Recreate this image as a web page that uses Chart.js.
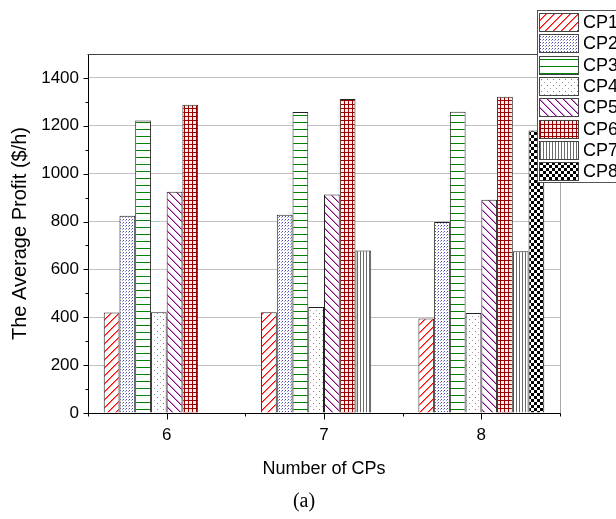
<!DOCTYPE html>
<html>
<head>
<meta charset="utf-8">
<title>Average Profit by Number of CPs</title>
<script src="https://cdn.jsdelivr.net/npm/chart.js@4.4.1/dist/chart.umd.min.js"></script>
<style>
  html, body { margin: 0; padding: 0; background: #fff; }
  canvas { display: block; }
</style>
</head>
<body>
<canvas id="profitChart" width="616" height="519"></canvas>
<script>
// DATA
const xLabels = ["6", "7", "8"];
const cpNames = ["CP1", "CP2", "CP3", "CP4", "CP5", "CP6", "CP7", "CP8"];
const cp1 = [420, 421, 395];
const cp2 = [824, 828, 798];
const cp3 = [1222, 1258, 1259];
const cp4 = [421, 443, 418];
const cp5 = [924, 913, 891];
const cp6 = [1288, 1312, 1321];
const cp7 = [null, 679, 676];
const cp8 = [null, null, 1180];
const yTickValues = [0, 200, 400, 600, 800, 1000, 1200, 1400];

const canvas = document.getElementById("profitChart");
const ctx = canvas.getContext("2d");

// builds a repeating fill from a small tile
function tilePattern(w, h, paint) {
    const c = document.createElement("canvas");
    c.width = w;
    c.height = h;
    const g = c.getContext("2d");
    g.fillStyle = "#fff";
    g.fillRect(0, 0, w, h);
    paint(g);
    return ctx.createPattern(c, "repeat");
}

function px(g, x, y, col) {
    g.fillStyle = col;
    g.fillRect(x, y, 1, 1);
}

const fills = [
    // red forward hatch
    tilePattern(8, 8, g => {
        for (let i = 0; i < 8; i++) {
            px(g, i, 7 - i, "#ff0000");
            px(g, (i + 1) % 8, 7 - i, "#ff6a6a");
        }
    }),
    // fine blue dots
    tilePattern(3, 3, g => {
        px(g, 0, 0, "#4a4ab0");
        px(g, 2, 1, "#9a9ad8");
    }),
    // green horizontal lines
    tilePattern(1, 7, g => {
        px(g, 0, 3, "#008000");
    }),
    // sparse grey dots
    tilePattern(6, 6, g => {
        px(g, 1, 1, "#808080");
        px(g, 4, 4, "#a0a0a0");
    }),
    // purple back hatch
    tilePattern(8, 8, g => {
        for (let i = 0; i < 8; i++) {
            px(g, i, i, "#800080");
            px(g, (i + 1) % 8, i, "#c890c8");
        }
    }),
    // dark red grid
    tilePattern(4, 4, g => {
        g.fillStyle = "#fbeeee";
        g.fillRect(1, 1, 3, 3);
        g.fillStyle = "#990000";
        g.fillRect(0, 0, 4, 1);
        g.fillRect(0, 0, 1, 4);
    }),
    // grey vertical lines
    tilePattern(3, 1, g => {
        px(g, 0, 0, "#6a6a6a");
    }),
    // checkerboard
    tilePattern(6, 6, g => {
        g.fillStyle = "#000";
        g.fillRect(0, 0, 3, 3);
        g.fillRect(3, 3, 3, 3);
    })
];

const seriesValues = [cp1, cp2, cp3, cp4, cp5, cp6, cp7, cp8];

const datasets = cpNames.map((name, i) => ({
    label: name,
    data: seriesValues[i],
    backgroundColor: fills[i],
    borderColor: "#222",
    borderWidth: 1
}));

// axis ticks, frame, legend box and sub caption
const chartExtras = {
    id: "chartExtras",
    afterDraw(chart) {
        const c = chart.ctx;
        const area = chart.chartArea;
        const xs = chart.scales.x;
        const ys = chart.scales.y;
        const L = Math.round(area.left) + 0.5;
        const R = Math.round(area.right) + 0.5;
        const T = Math.round(area.top) + 0.5;
        const B = Math.round(area.bottom) + 0.5;

        c.save();
        c.lineWidth = 1;

        // right edge
        c.strokeStyle = "#a8a8a8";
        c.beginPath();
        c.moveTo(R, T);
        c.lineTo(R, B);
        c.stroke();

        // top edge
        c.strokeStyle = "#444";
        c.beginPath();
        c.moveTo(L - 1, T);
        c.lineTo(R, T);
        c.stroke();

        // y tick marks, major every 200, minor every 100
        c.strokeStyle = "#000";
        c.beginPath();
        for (let v = 0; v <= 1400; v += 100) {
            const y = Math.round(ys.getPixelForValue(v)) + 0.5;
            const len = v % 200 === 0 ? 5 : 3;
            c.moveTo(L - len, y);
            c.lineTo(L, y);
        }
        // x tick marks at categories and between them
        for (let i = 0; i < xLabels.length; i++) {
            const x = Math.round(xs.getPixelForValue(i)) + 0.5;
            c.moveTo(x, B);
            c.lineTo(x, B + 6);
        }
        for (let k = 0; k <= xLabels.length; k++) {
            const x = Math.round(xs.getPixelForValue(k - 0.5)) + 0.5;
            c.moveTo(x, B);
            c.lineTo(x, B + 3);
        }
        c.stroke();

        // legend
        const boxL = 537.5, boxT = 10.5, boxB = 182.5;
        c.fillStyle = "#fff";
        c.fillRect(boxL, boxT, chart.width - boxL + 2, boxB - boxT);
        c.strokeStyle = "#555";
        c.strokeRect(boxL, boxT, chart.width - boxL + 2, boxB - boxT);

        c.font = "18px Arial, 'Liberation Sans', sans-serif";
        c.textBaseline = "middle";
        c.textAlign = "left";
        chart.data.datasets.forEach((ds, i) => {
            const top = 13 + i * 21.3;
            const sy = Math.round(top) + 0.5;
            c.fillStyle = ds.backgroundColor;
            c.fillRect(539.5, sy, 39, 18);
            c.strokeStyle = "#444";
            c.strokeRect(539.5, sy, 39, 18);
            c.fillStyle = "#000";
            c.fillText(ds.label, 583, sy + 10);
        });

        // sub caption
        c.font = "20px 'Liberation Serif', 'Times New Roman', serif";
        c.textAlign = "center";
        c.fillStyle = "#000";
        c.fillText("(a)", 304, 502);

        c.restore();
    }
};

Chart.defaults.font.family = "Arial, 'Liberation Sans', sans-serif";
Chart.defaults.color = "#000";

const profitChart = new Chart(ctx, {
    type: "bar",
    data: {
        labels: xLabels,
        datasets: datasets
    },
    options: {
        responsive: false,
        animation: false,
        events: [],
        layout: {
            padding: { top: 54, right: 56, left: 0, bottom: 0 }
        },
        datasets: {
            bar: {
                categoryPercentage: 0.8,
                barPercentage: 1.0
            }
        },
        plugins: {
            legend: { display: false },
            tooltip: { enabled: false }
        },
        scales: {
            x: {
                type: "category",
                grid: { display: false, drawTicks: false },
                border: { display: true, color: "#000", width: 1 },
                ticks: {
                    font: { size: 17 },
                    color: "#000",
                    padding: 12,
                    maxRotation: 0
                },
                title: {
                    display: true,
                    text: "Number of CPs",
                    font: { size: 18 },
                    color: "#000",
                    padding: { top: 0, bottom: 39 }
                },
                afterFit: scale => { scale.height = 106; }
            },
            y: {
                min: 0,
                max: 1500,
                afterBuildTicks: scale => {
                    scale.ticks = yTickValues.map(v => ({ value: v }));
                },
                grid: {
                    drawTicks: false,
                    color: c => (c.tick && c.tick.value === 0) ? "rgba(0,0,0,0)" : "#c2c2c2",
                    lineWidth: 1
                },
                border: { display: true, color: "#000", width: 1 },
                ticks: {
                    font: { size: 17 },
                    color: "#000",
                    padding: 9,
                    callback: v => String(v)
                },
                title: {
                    display: true,
                    text: "The Average Profit ($/h)",
                    font: { size: 20 },
                    color: "#000",
                    padding: { top: 8, bottom: 0 }
                },
                afterFit: scale => { scale.width = 88; }
            }
        }
    },
    plugins: [chartExtras]
});
</script>
</body>
</html>
